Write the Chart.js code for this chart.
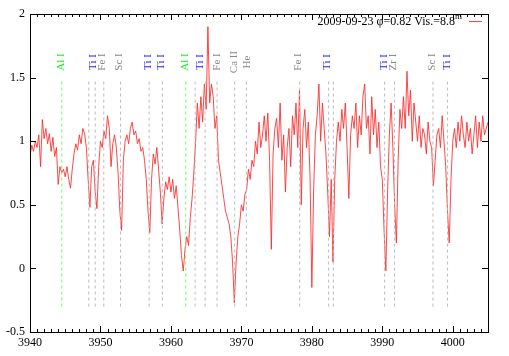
<!DOCTYPE html>
<html>
<head>
<meta charset="utf-8">
<script src="https://cdn.jsdelivr.net/npm/chart.js@4.4.1/dist/chart.umd.min.js"></script>
<style>
  html, body { margin: 0; padding: 0; background: #fff; }
  #wrap { width: 509px; height: 356px; }
</style>
</head>
<body>
<div id="wrap"><canvas id="myChart" width="509" height="356"></canvas></div>
<script>
// spectrum sampled every 0.25 A starting at 3940
const startWave = 3940;
const waveStep = 0.25;
const flux = [
  0.88, 0.97, 0.92, 1.00,   0.95, 1.05, 0.80, 1.17,
  1.02, 1.10, 0.98, 1.06,   0.92, 1.03, 0.88, 0.95,
  0.66, 0.80, 0.75, 0.78,   0.72, 0.80, 0.70, 0.63,
  0.78, 0.90, 0.98, 0.93,   1.05, 0.98, 1.10, 1.06,
  0.95, 0.70, 0.48, 0.80,   0.85, 0.60, 0.47, 0.80,
  1.00, 0.95, 1.08, 1.02,   1.20, 1.10, 0.80, 0.98,
  1.05, 0.95, 0.75, 0.45,   0.30, 0.85, 1.00, 1.05,
  0.98, 1.10, 1.15, 1.05,   1.08, 0.98, 1.02, 0.92,
  0.95, 0.85, 0.70, 0.45,   0.28, 0.70, 0.90, 0.82,
  0.95, 0.78, 0.60, 0.35,   0.55, 0.68, 0.62, 0.72,
  0.60, 0.70, 0.55, 0.65,   0.48, 0.30, 0.10, -0.02,
  0.15, 0.25, 0.18, 0.40,   0.55, 0.75, 1.00, 1.30,
  1.10, 1.35, 1.15, 1.45,   1.25, 1.90, 1.30, 1.45,
  1.35, 1.10, 1.20, 0.85,   0.75, 0.65, 0.55, 0.45,
  0.40, 0.35, 0.25, 0.05,   -0.27, 0.05, 0.25, 0.35,
  0.50, 0.45, 0.58, 0.62,   0.78, 0.70, 0.85, 0.80,
  1.00, 0.90, 1.15, 0.95,   1.05, 1.20, 1.00, 1.22,
  0.85, 0.15, 0.90, 1.10,   1.18, 0.95, 1.30, 0.85,
  1.05, 0.60, 0.95, 1.10,   0.80, 1.20, 1.05, 1.30,
  0.95, 1.40, 0.50, 1.10,   1.25, 0.95, 1.15, 0.70,
  -0.15, 0.60, 1.05, 1.20,  1.45, 1.00, 1.30, 1.10,
  0.90, 0.60, 0.25, 0.70,   0.05, 0.70, 1.00, 1.15,
  1.00, 1.25, 1.10, 1.30,   0.95, 0.55, 1.05, 1.20,
  1.10, 1.30, 0.95, 1.20,   1.05, 1.35, 1.45, 1.10,
  1.20, 0.90, 1.35, 1.05,   1.25, 0.95, 1.15, 0.80,
  0.70, 0.30, -0.02, 0.60,  1.05, 1.30, 0.95, 0.50,
  0.20, 0.85, 1.25, 1.10,   1.35, 1.10, 1.55, 1.20,
  1.40, 1.00, 1.30, 1.15,   1.00, 1.20, 0.95, 1.10,
  1.05, 0.90, 1.15, 1.00,   0.95, 0.65, 0.85, 1.05,
  1.10, 0.95, 1.20, 1.00,   0.80, 0.45, 0.20, 0.70,
  1.00, 1.10, 0.95, 1.15,   1.00, 1.20, 1.05, 0.95,
  1.15, 1.00, 1.10, 0.90,   1.05, 1.20, 0.95, 1.15,
  1.00, 1.20, 1.05, 1.10,   1.15
];

// marked lines (dashed verticals)
const lineWaves = [3944.51, 3948.34, 3949.25, 3950.47, 3952.84, 3956.91, 3958.79, 3962.10,
                   3963.43, 3964.85, 3966.55, 3969.05, 3970.71, 3978.27, 3982.38, 3983.05,
                   3990.33, 3991.74, 3997.19, 3999.26];
const lineKinds = ['Al', 'x', 'x', 'x', 'x', 'x', 'x', 'Al',
                   'x', 'x', 'x', 'x', 'x', 'x', 'x', 'x',
                   'x', 'x', 'x', 'x'];
const lineTop = 1.48;
const lineBottom = -0.3;

// ion labels above the lines
const labelTexts = ['Al I', 'Ti I', 'Fe I', 'Sc I', 'Ti I', 'Ti I', 'Al I', 'Ti I', 'Fe I', 'Ca II', 'He',
                    'Fe I', 'Ti I', 'Ti I', 'Zr I', 'Sc I', 'Ti I'];
const labelWaves = [3944.45, 3948.9, 3950.2, 3952.7, 3956.75, 3958.65, 3962.0, 3964.1, 3966.5, 3969.0, 3970.8,
                    3978.1, 3982.2, 3990.2, 3991.6, 3997.1, 3999.2];

const xTicks = [3940, 3950, 3960, 3970, 3980, 3990, 4000];
const yTicks = [-0.5, 0, 0.5, 1, 1.5, 2];
const legendText = '2009-09-23 \u03c6=0.82 Vis.=8.8';

const serif = '"Liberation Serif", "DejaVu Serif", serif';
const colors = { Al: '#22ee22', Ti: '#2222ff', other: '#888888' };

function labelColor(t) {
    if (t.indexOf('Al') === 0) return colors.Al;
    if (t.indexOf('Ti') === 0) return colors.Ti;
    return colors.other;
}

const spectrum = flux.map((f, i) => ({ x: startWave + i * waveStep, y: f }));

const datasets = [];
lineWaves.forEach((w, i) => {
    datasets.push({
        data: [{ x: w, y: lineBottom }, { x: w, y: lineTop }],
        borderColor: lineKinds[i] === 'Al' ? '#66ff66' : '#bbbbbb',
        borderWidth: 1,
        borderDash: [3, 3],
        pointRadius: 0,
        fill: false
    });
});
datasets.push({
    data: spectrum,
    borderColor: 'rgba(255,40,40,0.85)',
    borderWidth: 1,
    pointRadius: 0,
    tension: 0,
    fill: false
});

// gnuplot-like frame with inward ticks, ion labels and key
const framePlugin = {
    id: 'frame',
    afterDraw(chart) {
        const ctx = chart.ctx;
        const a = chart.chartArea;
        const xs = chart.scales.x;
        const ys = chart.scales.y;
        ctx.save();
        ctx.strokeStyle = '#000';
        ctx.lineWidth = 1;
        ctx.strokeRect(Math.round(a.left) + 0.5, Math.round(a.top) + 0.5,
                       Math.round(a.right - a.left), Math.round(a.bottom - a.top));
        ctx.beginPath();
        for (let v = 3941; v < 4005; v++) {
            const px = Math.round(xs.getPixelForValue(v)) + 0.5;
            const len = (v % 10 === 0) ? 6 : 3;
            ctx.moveTo(px, a.bottom); ctx.lineTo(px, a.bottom - len);
            ctx.moveTo(px, a.top); ctx.lineTo(px, a.top + len);
        }
        yTicks.forEach(v => {
            const py = Math.round(ys.getPixelForValue(v)) + 0.5;
            ctx.moveTo(a.left, py); ctx.lineTo(a.left + 6, py);
            ctx.moveTo(a.right, py); ctx.lineTo(a.right - 6, py);
        });
        ctx.stroke();

        // ion labels, rotated
        ctx.font = '11px ' + serif;
        ctx.textAlign = 'center';
        ctx.textBaseline = 'middle';
        labelTexts.forEach((t, i) => {
            const px = xs.getPixelForValue(labelWaves[i]);
            ctx.save();
            ctx.translate(px, 62);
            ctx.rotate(-Math.PI / 2);
            ctx.fillStyle = labelColor(t);
            ctx.fillText(t, 0, 0);
            ctx.restore();
        });

        // key
        ctx.font = '12px ' + serif;
        ctx.fillStyle = '#000';
        ctx.textAlign = 'right';
        ctx.textBaseline = 'alphabetic';
        ctx.fillText(legendText, 455, 25);
        ctx.font = '9px ' + serif;
        ctx.textAlign = 'left';
        ctx.fillText('m', 455, 19);
        ctx.strokeStyle = 'rgba(255,40,40,0.85)';
        ctx.beginPath();
        ctx.moveTo(469, 21.5); ctx.lineTo(482, 21.5);
        ctx.stroke();
        ctx.restore();
    }
};

const ctx = document.getElementById('myChart').getContext('2d');
new Chart(ctx, {
    type: 'line',
    data: { datasets: datasets },
    options: {
        responsive: false,
        animation: false,
        events: [],
        layout: { padding: { top: 14, right: 21, left: 0, bottom: 0 } },
        plugins: { legend: { display: false }, tooltip: { enabled: false } },
        scales: {
            x: {
                type: 'linear',
                min: 3940,
                max: 4005,
                afterFit(scale) { scale.height = 24; },
                afterBuildTicks(scale) { scale.ticks = xTicks.map(v => ({ value: v })); },
                grid: { display: false, drawTicks: false },
                border: { display: false },
                ticks: { color: '#000', padding: 4, maxRotation: 0, callback: v => String(v),
                         font: { family: serif, size: 12 } }
            },
            y: {
                type: 'linear',
                min: -0.5,
                max: 2,
                afterFit(scale) { scale.width = 30; },
                afterBuildTicks(scale) { scale.ticks = yTicks.map(v => ({ value: v })); },
                grid: { display: false, drawTicks: false },
                border: { display: false },
                ticks: { color: '#000', padding: 5, callback: v => String(v),
                         font: { family: serif, size: 12 } }
            }
        }
    },
    plugins: [framePlugin]
});
</script>
</body>
</html>
